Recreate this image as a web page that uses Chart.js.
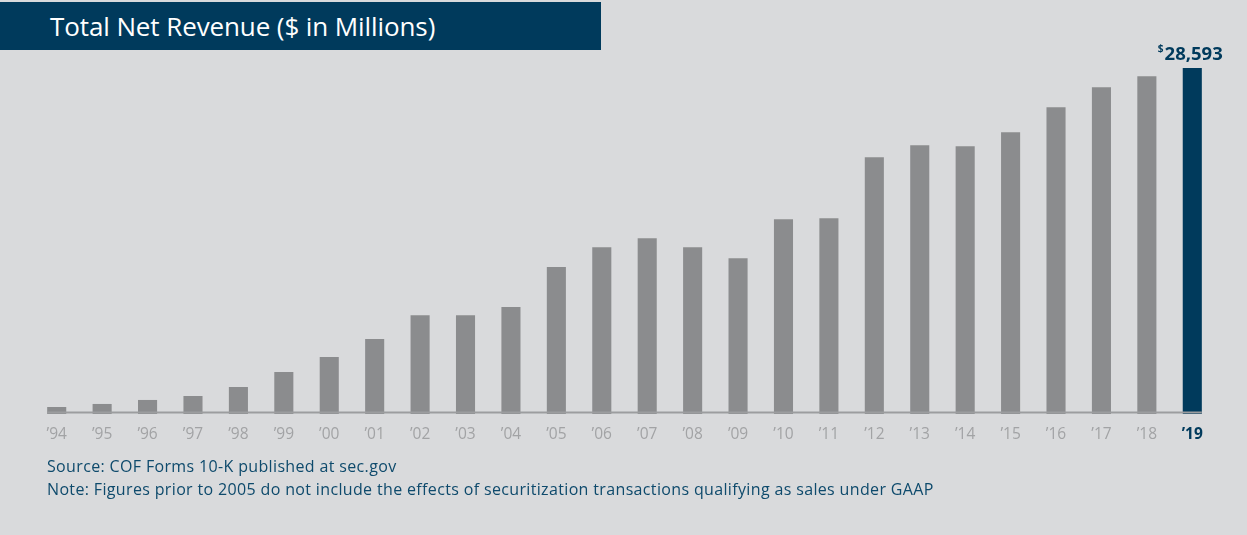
<!DOCTYPE html>
<html>
<head>
<meta charset="utf-8">
<script src="https://cdn.jsdelivr.net/npm/chart.js@4"></script>
<style>
  html, body { margin: 0; padding: 0; background: #d9dadc; }
  #wrap { position: relative; width: 1247px; height: 535px; background: #d9dadc; overflow: hidden; }
  #title { position: absolute; left: 0; top: 2px; width: 601px; height: 48px; background: #003a5c;
           color: #ffffff; font-family: "Open Sans", sans-serif; font-size: 26px; line-height: 48px;
           padding-left: 50px; box-sizing: border-box; letter-spacing: -0.1px; }
  #notes { position: absolute; left: 47px; top: 455px; color: #0e4a6c; font-family: "Open Sans", sans-serif;
           font-size: 16px; line-height: 23px; letter-spacing: 0.35px; }
  canvas { position: absolute; left: 0; top: 0; }
</style>
</head>
<body>
<div id="wrap">
  <canvas id="c" width="1247" height="535"></canvas>
  <div id="title">Total Net Revenue ($ in Millions)</div>
  <div id="notes">Source: COF Forms 10-K published at sec.gov<br>Note: Figures prior to 2005 do not include the effects of securitization transactions qualifying as sales under GAAP</div>
</div>
<script>
const years = ["’94","’95","’96","’97","’98","’99","’00","’01","’02","’03","’04","’05","’06","’07","’08","’09","’10","’11","’12","’13","’14","’15","’16","’17","’18","’19"];
const revenue = [580, 830, 1160, 1490, 2230, 3470, 4710, 6190, 8170, 8170, 8840, 12140, 13790, 14530, 13790, 12880, 16100, 16180, 21220, 22210, 22130, 23290, 25350, 27000, 27910, 28593];
const highlightLabel = "28,593";

const GRAY = "#8b8c8e";
const NAVY = "#003a5c";
const lastIdx = years.length - 1;

const overlay = {
  id: "overlay",
  afterDatasetsDraw(chart) {
    const ctx = chart.ctx;
    const meta = chart.getDatasetMeta(0);
    const first = meta.data[0], last = meta.data[lastIdx];
    const y0 = chart.scales.y.getPixelForValue(0);
    ctx.save();
    ctx.strokeStyle = "#9c9d9f";
    ctx.lineWidth = 2;
    ctx.beginPath();
    ctx.moveTo(first.x - first.width / 2, y0 - 1.5);
    ctx.lineTo(last.x + last.width / 2, y0 - 1.5);
    ctx.stroke();
    // value label
    ctx.fillStyle = NAVY;
    ctx.textBaseline = "alphabetic";
    ctx.font = "bold 18.5px 'Open Sans', sans-serif";
    const numW = ctx.measureText(highlightLabel).width;
    ctx.font = "bold 10px 'Open Sans', sans-serif";
    const dW = ctx.measureText("$").width;
    const total = numW + dW + 1;
    const startX = last.x - total / 2 - 2;
    const baseY = last.y - 8;
    ctx.fillText("$", startX, baseY - 8);
    ctx.font = "bold 18.5px 'Open Sans', sans-serif";
    ctx.fillText(highlightLabel, startX + dW + 1, baseY);
    ctx.restore();
  }
};

new Chart(document.getElementById("c"), {
  type: "bar",
  data: {
    labels: years,
    datasets: [{
      data: revenue,
      backgroundColor: revenue.map((v, i) => i === lastIdx ? NAVY : GRAY),
      borderWidth: 0,
      categoryPercentage: 1,
      barPercentage: 0.42
    }]
  },
  options: {
    responsive: false,
    animation: false,
    layout: { padding: { left: 34, right: 32, top: 51, bottom: 91 } },
    plugins: { legend: { display: false }, tooltip: { enabled: false } },
    scales: {
      x: {
        grid: { display: false, drawTicks: false },
        border: { display: false },
        afterFit(scale) { scale.height = 30; },
        ticks: {
          padding: 11,
          maxRotation: 0,
          autoSkip: false,
          color: (c) => c.index === lastIdx ? NAVY : "#a2a3a5",
          font: (c) => ({ family: "'Open Sans', sans-serif", size: 15.5, weight: c.index === lastIdx ? "bold" : "normal" })
        }
      },
      y: {
        display: false,
        min: 0,
        max: 30000
      }
    }
  },
  plugins: [overlay]
});
</script>
</body>
</html>
